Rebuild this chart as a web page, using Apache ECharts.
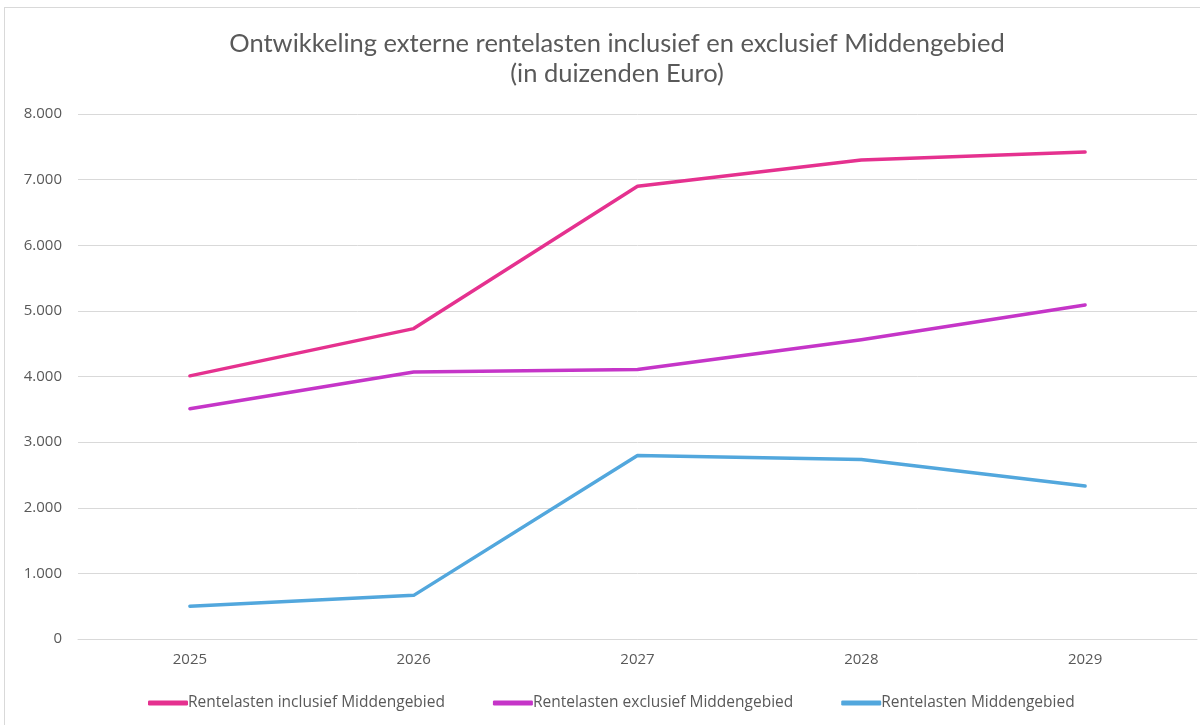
<!DOCTYPE html>
<html>
<head>
<meta charset="utf-8">
<script src="https://cdn.jsdelivr.net/npm/echarts@6/dist/echarts.min.js"></script>
<style>
  html, body { margin: 0; padding: 0; background: #fff; }
  #frame { position: absolute; left: 4px; top: 7px; width: 1210px; height: 730px; border: 1px solid #d9d9d9; }
  #main { position: absolute; left: 0; top: 0; width: 1200px; height: 725px; }
</style>
</head>
<body>
<div id="frame"></div>
<div id="main"></div>
<script>
// jaren
var years = ['2025', '2026', '2027', '2028', '2029'];
// reeksen (in duizenden euro)
var inclusief = [4010, 4730, 6900, 7300, 7420];
var exclusief = [3510, 4070, 4105, 4560, 5090];
var middengebied = [500, 665, 2795, 2735, 2330];
var seriesNames = ['Rentelasten inclusief Middengebied', 'Rentelasten exclusief Middengebied', 'Rentelasten Middengebied'];
var colors = ['#e5318f', '#c535c8', '#52a7dd'];

var myChart = echarts.init(document.getElementById('main'));
var titleFont = 'Lato, sans-serif';
var font = '"Open Sans", sans-serif';

function makeLine(name, data, color) {
    return {
        name: name,
        type: 'line',
        data: data,
        symbol: 'none',
        lineStyle: { width: 3.5, color: color, cap: 'round', join: 'round' },
        itemStyle: { color: color }
    };
}

var option = {
    animation: false,
    title: {
        text: 'Ontwikkeling externe rentelasten inclusief en exclusief Middengebied\n(in duizenden Euro)',
        left: 612,
        textAlign: 'center',
        top: 24,
        textStyle: { fontFamily: titleFont, fontSize: 25.5, fontWeight: 'normal', color: '#595959', lineHeight: 30 }
    },
    legend: {
        left: 143,
        top: 690,
        itemWidth: 40,
        itemHeight: 5,
        itemGap: 48,
        icon: 'roundRect',
        textStyle: { fontFamily: font, fontSize: 15.5, color: '#595959', padding: [0, 0, 0, -5] },
        data: seriesNames
    },
    grid: { left: 78, right: 3, top: 114, bottom: 86, containLabel: false },
    xAxis: {
        type: 'category',
        data: years,
        boundaryGap: true,
        axisLine: { show: true, lineStyle: { color: '#d9d9d9' } },
        axisTick: { show: false },
        axisLabel: { fontFamily: font, fontSize: 15, color: '#595959', margin: 13 }
    },
    yAxis: {
        type: 'value',
        min: 0,
        max: 8000,
        interval: 1000,
        axisLine: { show: false },
        axisTick: { show: false },
        splitLine: { lineStyle: { color: '#d9d9d9', width: 1 } },
        axisLabel: {
            fontFamily: font, fontSize: 15, color: '#595959', margin: 16,
            formatter: function (v) { return v === 0 ? '0' : (v / 1000) + '.000'; }
        }
    },
    series: [
        makeLine(seriesNames[0], inclusief, colors[0]),
        makeLine(seriesNames[1], exclusief, colors[1]),
        makeLine(seriesNames[2], middengebied, colors[2])
    ]
};
myChart.setOption(option);
</script>
</body>
</html>
